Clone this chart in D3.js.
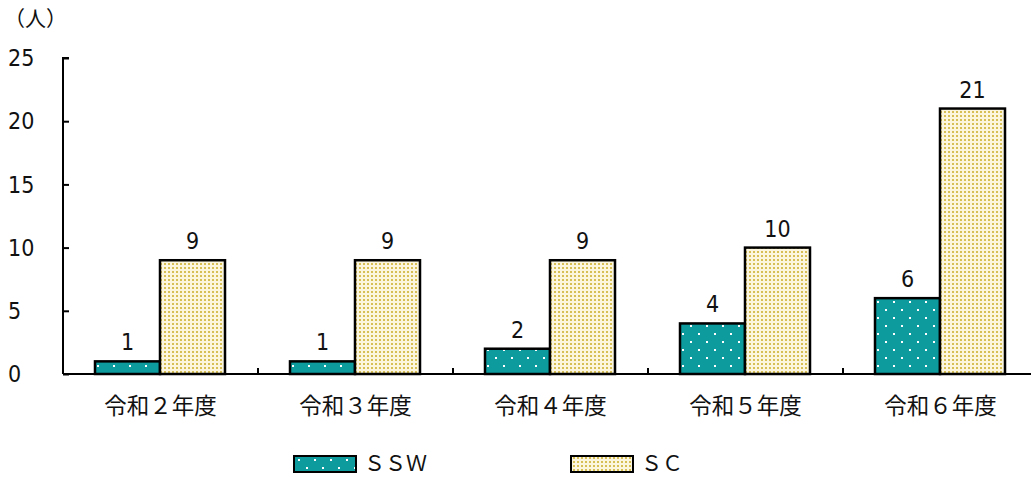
<!DOCTYPE html>
<html>
<head>
<meta charset="utf-8">
<script src="https://cdn.jsdelivr.net/npm/d3@7"></script>
<style>
  body { margin: 0; background: #fff; }
  text { font-family: "Noto Sans CJK JP", "Noto Sans", sans-serif; fill: #111; }
  text.num { font-family: "DejaVu Sans Condensed", "Noto Sans", sans-serif; font-stretch: condensed; }
</style>
</head>
<body>
<div id="chart"></div>
<script>
// Chart data
var categories = ["令和２年度", "令和３年度", "令和４年度", "令和５年度", "令和６年度"];
var seriesNames = ["ＳＳＷ", "ＳＣ"];
var sswValues = [1, 1, 2, 4, 6];
var scValues = [9, 9, 9, 10, 21];
var yTicks = [0, 5, 10, 15, 20, 25];

var W = 1031, H = 477;
var margin = { top: 58, left: 63 };
var plotW = 975, plotH = 316;

var svg = d3.select("#chart").append("svg")
  .attr("width", W).attr("height", H);

// patterns for bars
var defs = svg.append("defs");
var pSSW = defs.append("pattern").attr("id", "pSSW")
  .attr("patternUnits", "userSpaceOnUse").attr("width", 16).attr("height", 16);
pSSW.append("rect").attr("width", 16).attr("height", 16).attr("fill", "#0E9B9E");
pSSW.append("rect").attr("x", 2).attr("y", 3).attr("width", 2).attr("height", 2).attr("fill", "#fff");
pSSW.append("rect").attr("x", 10).attr("y", 11).attr("width", 2).attr("height", 2).attr("fill", "#fff");

var pSC = defs.append("pattern").attr("id", "pSC")
  .attr("patternUnits", "userSpaceOnUse").attr("width", 4).attr("height", 4);
pSC.append("rect").attr("width", 4).attr("height", 4).attr("fill", "#FCF6DE");
pSC.append("rect").attr("x", 1).attr("y", 1).attr("width", 2).attr("height", 2).attr("fill", "#D7BE55");

var g = svg.append("g").attr("transform", "translate(" + margin.left + "," + margin.top + ")");

var x0 = d3.scaleBand().domain(categories).range([0, plotW]).paddingInner(0).paddingOuter(0);
var x1 = d3.scaleBand().domain(seriesNames).range([32, x0.bandwidth() - 33]);
var y = d3.scaleLinear().domain([0, 25]).range([plotH, 0]);

// y axis (ticks inward)
var yAxis = g.append("g")
  .call(d3.axisRight(y).tickValues(yTicks).tickSize(6).tickFormat(""));
yAxis.select(".domain").attr("stroke", "#000").attr("stroke-width", 2).attr("d", "M6,0H0V" + plotH);
yAxis.selectAll(".tick line").attr("stroke", "#000").attr("stroke-width", 2);

g.selectAll(".ylab").data(yTicks).enter().append("text")
  .attr("class", "ylab num")
  .attr("x", -55).attr("y", function(d) { return y(d); })
  .attr("dy", "0.36em")
  .style("font-size", "23px")
  .text(function(d) { return d; });

svg.append("text").attr("x", 4).attr("y", 26).style("font-size", "21px").text("（人）");

// bars
var groups = g.selectAll(".grp").data(categories).enter().append("g")
  .attr("transform", function(d) { return "translate(" + x0(d) + ",0)"; });

groups.append("rect")
  .attr("x", x1("ＳＳＷ")).attr("width", x1.bandwidth())
  .attr("y", function(d, i) { return y(sswValues[i]); })
  .attr("height", function(d, i) { return plotH - y(sswValues[i]); })
  .attr("fill", "url(#pSSW)").attr("stroke", "#000").attr("stroke-width", 2.5);

groups.append("rect")
  .attr("x", x1("ＳＣ")).attr("width", x1.bandwidth())
  .attr("y", function(d, i) { return y(scValues[i]); })
  .attr("height", function(d, i) { return plotH - y(scValues[i]); })
  .attr("fill", "url(#pSC)").attr("stroke", "#000").attr("stroke-width", 2.5);

// value labels
groups.append("text").attr("class", "num")
  .attr("x", x1("ＳＳＷ") + x1.bandwidth() / 2)
  .attr("y", function(d, i) { return y(sswValues[i]) - 11; })
  .attr("text-anchor", "middle").style("font-size", "23px")
  .text(function(d, i) { return sswValues[i]; });

groups.append("text").attr("class", "num")
  .attr("x", x1("ＳＣ") + x1.bandwidth() / 2)
  .attr("y", function(d, i) { return y(scValues[i]) - 11; })
  .attr("text-anchor", "middle").style("font-size", "23px")
  .text(function(d, i) { return scValues[i]; });

// x axis
var xAxis = g.append("g").attr("transform", "translate(0," + plotH + ")")
  .call(d3.axisTop(x0).tickSize(0).tickFormat(""));
xAxis.select(".domain").attr("stroke", "#000").attr("stroke-width", 2).attr("d", "M0,0H" + plotW);
g.selectAll(".xtick").data(categories.slice(1)).enter().append("line")
  .attr("x1", function(d) { return x0(d); }).attr("x2", function(d) { return x0(d); })
  .attr("y1", plotH).attr("y2", plotH - 6)
  .attr("stroke", "#000").attr("stroke-width", 2);

g.selectAll(".xlab").data(categories).enter().append("text")
  .attr("x", function(d) { return x0(d) + x0.bandwidth() / 2; })
  .attr("y", plotH + 40)
  .attr("text-anchor", "middle").style("font-size", "22.5px")
  .text(function(d) { return d; });

// legend
var legend = svg.append("g");
var legendItems = [
  { name: seriesNames[0], fill: "url(#pSSW)", x: 294 },
  { name: seriesNames[1], fill: "url(#pSC)", x: 571 }
];
legendItems.forEach(function(it) {
  legend.append("rect").attr("x", it.x).attr("y", 456).attr("width", 62).attr("height", 16)
    .attr("fill", it.fill).attr("stroke", "#000").attr("stroke-width", 2);
  legend.append("text").attr("x", it.x + 70).attr("y", 471)
    .style("font-size", "21px").text(it.name);
});
</script>
</body>
</html>
